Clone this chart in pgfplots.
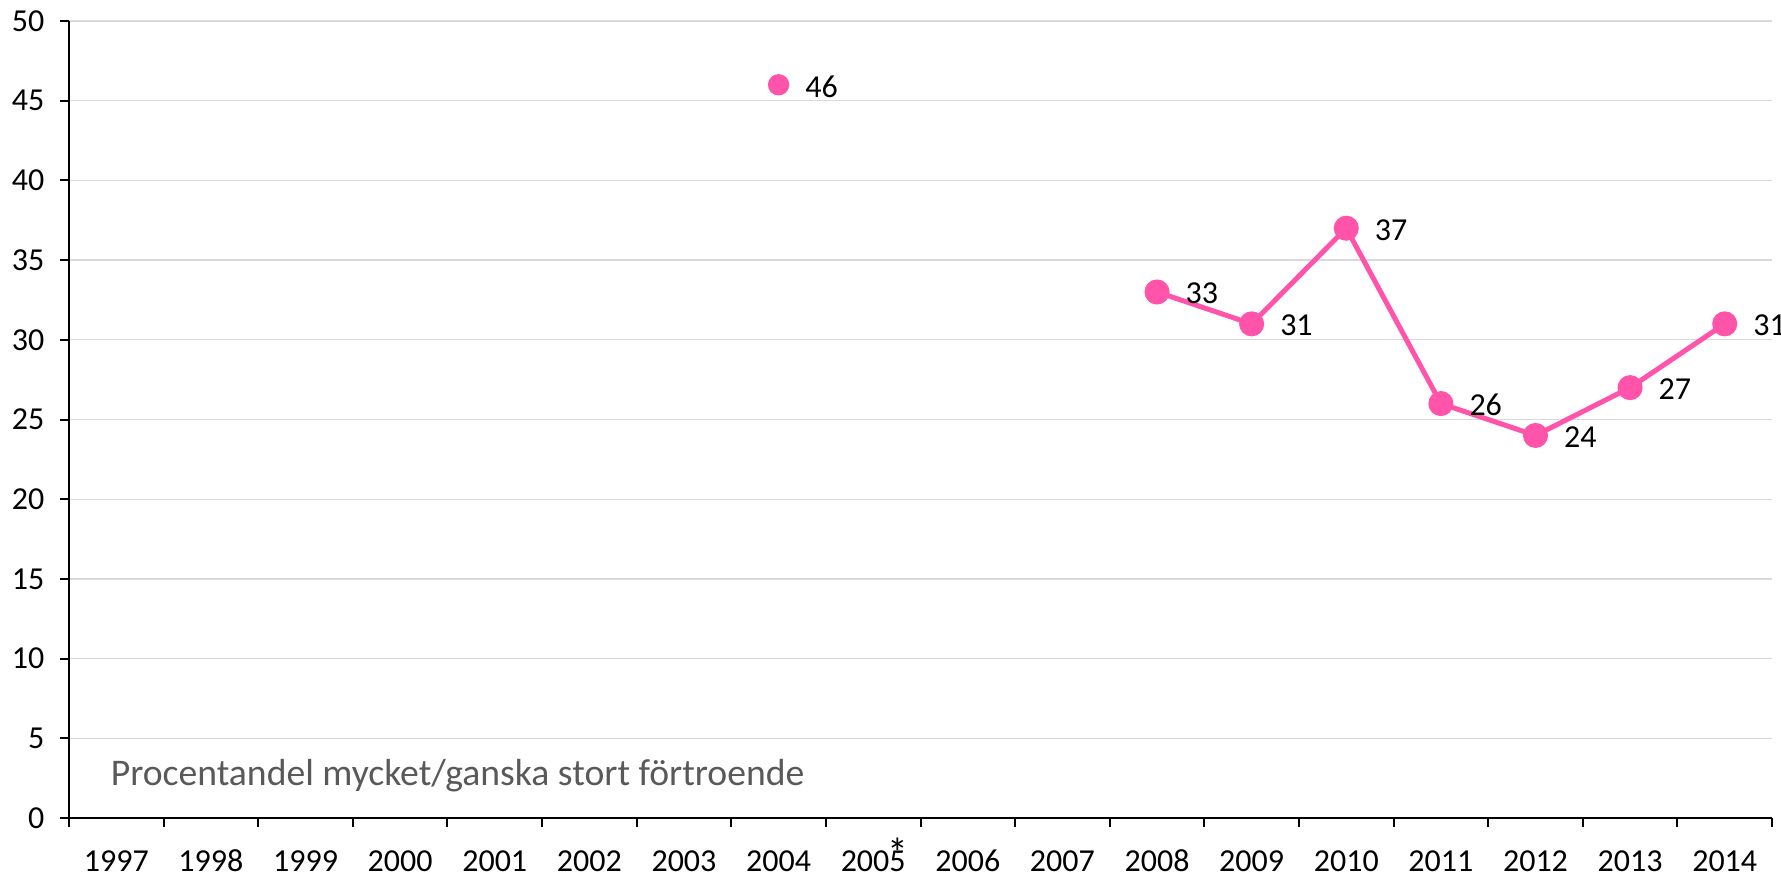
\documentclass[border=0pt]{standalone}
\usepackage{fontspec}
\setmainfont{Carlito}
\usepackage{pgfplots}
\usepackage{pgfplotstable}
\pgfplotsset{compat=1.18}

\definecolor{pinkline}{RGB}{255,84,170}
\definecolor{gridgray}{RGB}{217,217,217}
\definecolor{subgray}{RGB}{89,89,89}

% year index: 0 = 1997 ... 17 = 2014
\pgfplotstableread{
x y
7 46
}\single
\pgfplotstableread{
x y
11 33
12 31
13 37
14 26
15 24
16 27
17 31
}\trend

\newcommand{\yrast}{\rlap{\smash{\raisebox{0.12em}{\kern-0.05em\scalebox{1.3}{*}}}}}

\begin{document}
\begin{tikzpicture}
  \begin{axis}[
    scale only axis,
    width=510.9pt, height=239.1pt,
    xmin=-0.5, xmax=17.5,
    ymin=0, ymax=50,
    axis lines=left,
    axis line style={line width=0.6pt, -},
    xtick={0,...,17},
    xticklabels={1997,1998,1999,2000,2001,2002,2003,2004,{200\yrast5},2006,2007,2008,2009,2010,2011,2012,2013,2014},
    major x tick style={draw=none},
    minor xtick={-0.5,0.5,...,17.5},
    ytick={0,5,...,50},
    tick align=outside,
    tick style={black, line width=0.6pt},
    major tick length=2.7pt, minor tick length=2.7pt,
    ymajorgrids,
    grid style={line width=0.4pt, gridgray},
    ticklabel style={font=\fontsize{9.6}{11}\selectfont},
    /pgf/number format/assume math mode=true,
    xticklabel style={anchor=base, yshift=-13.4pt},
    yticklabel style={xshift=-1.2pt},
    clip=false,
  ]
    \addplot[pinkline, line width=1.5pt, mark=*, mark size=3pt,
      mark options={fill=pinkline, draw=pinkline},
      nodes near coords, point meta=y,
      every node near coord/.style={anchor=west, xshift=4.5pt, yshift=-0.5pt,
        font=\fontsize{9.6}{11}\selectfont, text=black}]
      table[x=x, y=y] {\trend};
    \addplot[only marks, mark=*, mark size=3pt,
      mark options={fill=pinkline, draw=pinkline},
      nodes near coords, point meta=y,
      every node near coord/.style={anchor=west, xshift=4.5pt, yshift=-0.5pt,
        font=\fontsize{9.6}{11}\selectfont, text=black}]
      table[x=x, y=y] {\single};
    \node[anchor=base west, text=subgray, font=\fontsize{11.3}{13}\selectfont,
      xshift=9pt, yshift=9.9pt] at (rel axis cs:0,0)
      {Procentandel mycket/ganska stort förtroende};
    \coordinate (bl) at (rel axis cs:0,0);
    \coordinate (tr) at (rel axis cs:1,1);
  \end{axis}
  \pgfresetboundingbox
  \path[use as bounding box] ([xshift=-20.7pt,yshift=-17.4pt]bl) rectangle ([xshift=2.7pt,yshift=6.3pt]tr);
\end{tikzpicture}
\end{document}
